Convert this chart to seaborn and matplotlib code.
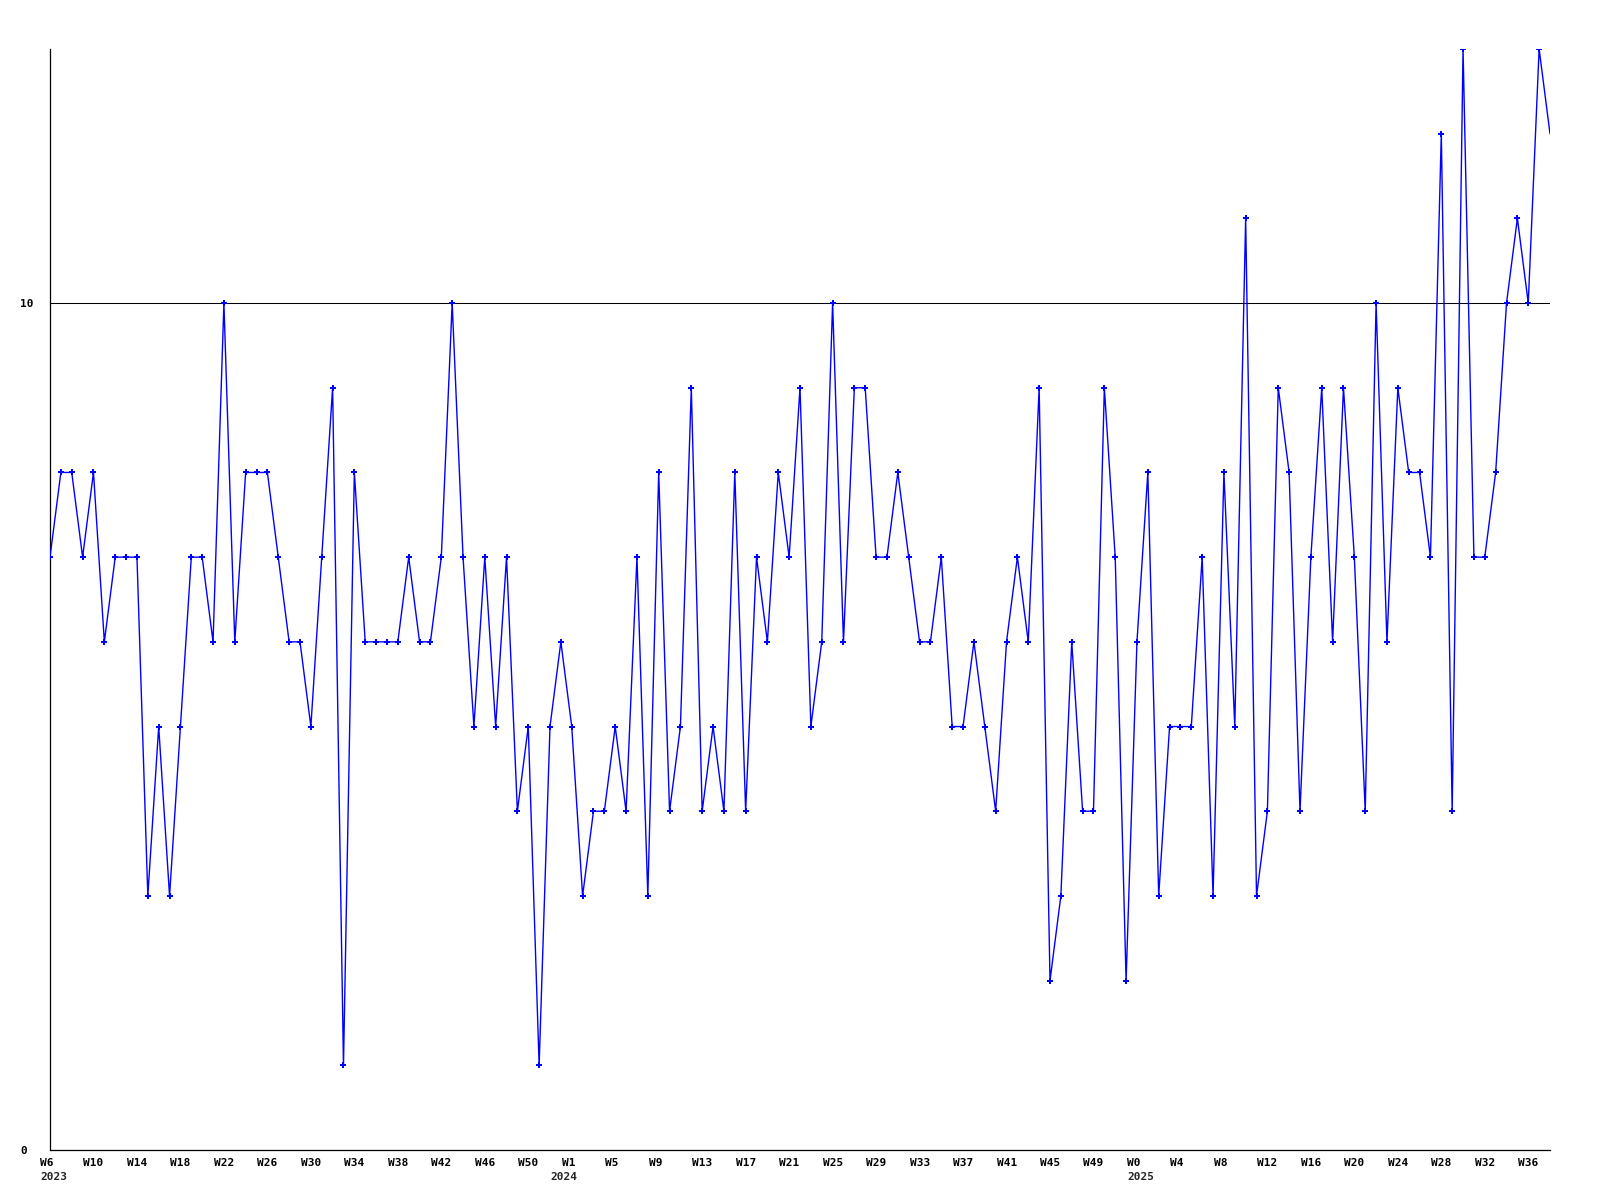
import numpy as np
import pandas as pd
import matplotlib
matplotlib.use("Agg")
import matplotlib.pyplot as plt
import seaborn as sns
from matplotlib.transforms import ScaledTranslation, blended_transform_factory

# weekly values, 2023 W6 onward
values = [
    7, 8, 8, 7, 8, 6, 7, 7, 7, 3,
    5, 3, 5, 7, 7, 6, 10, 6, 8, 8,
    8, 7, 6, 6, 5, 7, 9, 1, 8, 6,
    6, 6, 6, 7, 6, 6, 7, 10, 7, 5,
    7, 5, 7, 4, 5, 1, 5, 6, 5, 3,
    4, 4, 5, 4, 7, 3, 8, 4, 5, 9,
    4, 5, 4, 8, 4, 7, 6, 8, 7, 9,
    5, 6, 10, 6, 9, 9, 7, 7, 8, 7,
    6, 6, 7, 5, 5, 6, 5, 4, 6, 7,
    6, 9, 2, 3, 6, 4, 4, 9, 7, 2,
    6, 8, 3, 5, 5, 5, 7, 3, 8, 5,
    11, 3, 4, 9, 8, 4, 7, 9, 6, 9,
    7, 4, 10, 6, 9, 8, 8, 7, 12, 4,
    13, 7, 7, 8, 10, 11, 10, 13, 12,
]

tick_labels = [
    "W6", "W10", "W14", "W18", "W22", "W26", "W30", "W34", "W38", "W42", "W46", "W50",
    "W1", "W5", "W9", "W13", "W17", "W21", "W25", "W29", "W33", "W37", "W41", "W45", "W49",
    "W0", "W4", "W8", "W12", "W16", "W20", "W24", "W28", "W32", "W36",
]
year_labels = ["2023", "2024", "2025"]
year_pos = [0, 47, 100]
ytick_values = [0, 10]
ytick_labels = ["0", "10"]

df = pd.DataFrame({"week": np.arange(len(values)), "count": values})

sns.set_style("white")
plt.rcParams["font.family"] = ["DejaVu Sans Mono"]
plt.rcParams["font.weight"] = "bold"

fig = plt.figure(figsize=(16, 12), dpi=100)
ax = fig.add_axes([50 / 1600, 50 / 1200, 1500 / 1600, 1101 / 1200])

sns.lineplot(
    data=df, x="week", y="count", ax=ax,
    color="#0000ff", linewidth=1.0, marker="P", markersize=4.5,
    markeredgewidth=0, markeredgecolor="#0000ff", markerfacecolor="#0000ff",
    markevery=list(range(len(values) - 1)), zorder=3,
)

ax.set_xlim(0, len(values) - 1)
ax.set_ylim(0, 13)
ax.set_xlabel("")
ax.set_ylabel("")

ax.set_xticks(range(0, len(values) - 1, 4))
ax.set_xticklabels(tick_labels, fontsize=8, fontweight="bold")
ax.tick_params(axis="x", length=0, pad=6.0, colors="black")
shift = ScaledTranslation(-0.10, 0, fig.dpi_scale_trans)
for lbl in ax.get_xticklabels():
    lbl.set_ha("left")
    lbl.set_transform(lbl.get_transform() + shift)

ax.set_yticks(ytick_values)
ax.set_yticklabels(ytick_labels, fontsize=8, fontweight="bold")
ax.tick_params(axis="y", length=0, pad=21.6, colors="black")
for lbl in ax.get_yticklabels():
    lbl.set_ha("left")

ax.grid(False)
ax.yaxis.grid(True, color="black", linewidth=0.75)
ax.set_axisbelow(True)

for s in ["top", "right"]:
    ax.spines[s].set_visible(False)
for s in ["left", "bottom"]:
    ax.spines[s].set_color("black")
    ax.spines[s].set_linewidth(0.9)

trans = blended_transform_factory(ax.transData, ax.transAxes) + \
    ScaledTranslation(-0.10, -0.225, fig.dpi_scale_trans)
for pos, yl in zip(year_pos, year_labels):
    ax.text(pos, 0, yl, transform=trans, ha="left", va="top",
            fontsize=8, fontweight="bold", clip_on=False)

fig.savefig("out.png", dpi=100)
